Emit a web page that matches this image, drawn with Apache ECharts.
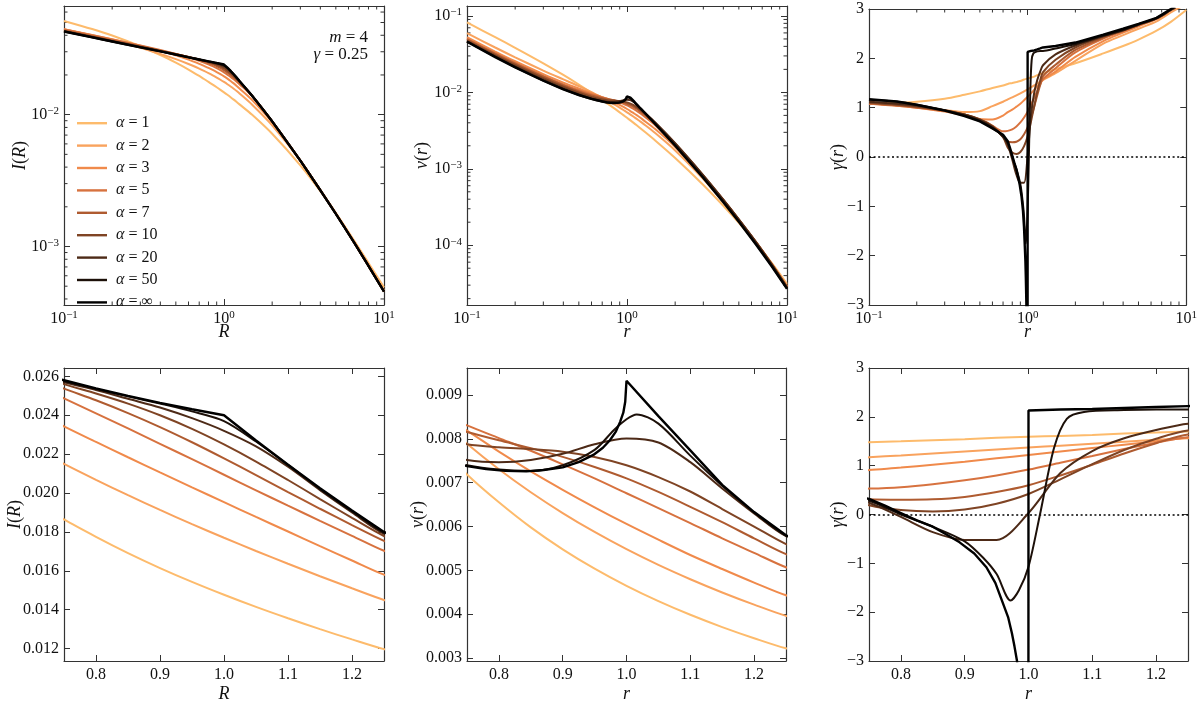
<!DOCTYPE html>
<html><head><meta charset="utf-8">
<script src="https://cdn.jsdelivr.net/npm/echarts@6/dist/echarts.min.js"></script>
<style>html,body{margin:0;padding:0;background:#fff}#c{width:1200px;height:704px}</style>
</head><body><div id="c"></div>
<script>
// ---------- legend / colours ----------
const names = ['α = 1','α = 2','α = 3','α = 5','α = 7','α = 10','α = 20','α = 50','α = ∞'];
const colors = ['#FDBB6C','#F9A35E','#F08A4B','#D7723F','#AF5B30','#7F4424','#4D2A17','#1C1009','#000000'];

// ---------- common radius grid ----------
const G = [0.1,0.15,0.2,0.3,0.4,0.5,0.6,0.7,0.75,0.8,0.85,0.9,0.95,1.0,1.05,1.1,1.15,1.2,1.25,1.5,2,3,4,5,6.5,8,10];

// ---------- I(R) ----------
const I_1 = [0.0514,0.0446,0.0398,0.0330,0.02834,0.02479,0.02198,0.01967,0.01864,0.017746,0.01691,0.016141,0.01543,0.014767,0.014142,0.013556,0.012999,0.01247,0.01197,0.00997,0.00716,0.00413,0.00263,0.00179,0.00111,0.00075,0.00049];
const I_2 = [0.0445,0.0399,0.0366,0.0322,0.0289,0.02635,0.02423,0.02236,0.0215,0.02068,0.01989,0.01913,0.0184,0.0177,0.01702,0.01636,0.01572,0.0151,0.0145,0.0119,0.0083,0.00449,0.00269,0.00179,0.00109,0.00073,0.000465];
const I_3 = [0.0445,0.0402,0.0373,0.0333,0.0305,0.02815,0.02614,0.0243,0.02343,0.02263,0.02184,0.02106,0.02029,0.01953,0.01877,0.01802,0.01727,0.01653,0.0158,0.01289,0.00874,0.00448,0.00267,0.00177,0.001074,0.000712,0.000458];
const I_5 = [0.0443,0.04005,0.0372,0.03348,0.03089,0.02889,0.02721,0.02565,0.02487,0.0241,0.02332,0.02253,0.02174,0.02094,0.02014,0.01935,0.01857,0.0178,0.01703,0.01381,0.00888,0.00448,0.00267,0.00177,0.001074,0.000712,0.000455];
const I_7 = [0.04346,0.03928,0.03656,0.03296,0.03059,0.0288,0.02733,0.02602,0.02537,0.02477,0.02411,0.02339,0.02261,0.02178,0.02092,0.02005,0.01919,0.01835,0.01754,0.01385,0.0089,0.00448,0.00267,0.00177,0.001074,0.000712,0.000455];
const I_10 = [0.04314,0.03899,0.03627,0.03277,0.03046,0.02874,0.02737,0.02617,0.0256,0.02512,0.0246,0.0240,0.0233,0.0225,0.02162,0.02067,0.01969,0.01872,0.01779,0.01388,0.0089,0.00448,0.00267,0.00177,0.001074,0.000712,0.000455];
const I_20 = [0.0430,0.0388,0.0361,0.0326,0.0303,0.0287,0.0274,0.0262,0.0257,0.0253,0.02485,0.0244,0.02385,0.0232,0.0224,0.02135,0.02015,0.0190,0.0179,0.0139,0.0089,0.00448,0.00267,0.00177,0.001074,0.000712,0.000455];
const I_50 = [0.0428,0.0386,0.0359,0.0324,0.0302,0.0285,0.0272,0.0262,0.02575,0.02535,0.02497,0.0246,0.0242,0.0237,0.02265,0.02145,0.0202,0.01905,0.01795,0.0139,0.0089,0.00448,0.00267,0.00177,0.001074,0.000712,0.000455];
const I_inf = [0.0427,0.0386,0.0359,0.0324,0.0302,0.0285,0.0272,0.0262,0.0258,0.02538,0.0250,0.02464,0.02431,0.0240,0.0227,0.02145,0.02025,0.0191,0.0180,0.0139,0.0089,0.00448,0.00267,0.00177,0.001074,0.000712,0.000455];

// ---------- nu(r) ----------
const nu_1 = [0.0824,0.05275,0.03833,0.02404,0.01693,0.01268,0.00989,0.00793,0.00719,0.006554,0.005981,0.00548,0.005038,0.004646,0.004297,0.003985,0.003704,0.00345,0.00322,0.002345,0.001381,0.000614,0.000328,0.000196,0.0001025,5.91e-5,3.12e-5];
const nu_2 = [0.05963,0.03864,0.02873,0.01931,0.01478,0.01204,0.01007,0.00853,0.00789,0.007308,0.006783,0.006308,0.005876,0.005483,0.005124,0.004797,0.004495,0.004217,0.00396,0.00294,0.00174,0.000735,0.00037,0.00021,0.0001043,5.78e-5,2.95e-5];
const nu_3 = [0.05263,0.03423,0.02553,0.0173,0.01343,0.01122,0.00976,0.00863,0.00819,0.00771,0.00726,0.00684,0.00644,0.00606,0.0057,0.00535,0.00503,0.00472,0.00443,0.00331,0.00193,0.000775,0.000385,0.000215,0.000105,5.72e-5,2.87e-5];
const nu_5 = [0.05008,0.03257,0.02429,0.01643,0.01272,0.01064,0.00938,0.00862,0.00831,0.00802,0.00773,0.00742,0.0071,0.00676,0.00642,0.00608,0.00573,0.0054,0.00507,0.00372,0.00207,0.0008,0.000388,0.000215,0.0001045,5.68e-5,2.85e-5];
const nu_7 = [0.04928,0.03193,0.02374,0.016,0.01234,0.0103,0.00908,0.00837,0.00816,0.00797,0.00779,0.00759,0.00736,0.0071,0.00679,0.00645,0.0061,0.00573,0.00537,0.0039,0.00213,0.000815,0.000393,0.000217,0.0001052,5.7e-5,2.84e-5];
const nu_10 = [0.04768,0.03076,0.0228,0.01533,0.01183,0.00988,0.00871,0.00805,0.00788,0.00781,0.00777,0.00771,0.00759,0.0074,0.00713,0.0068,0.0064,0.006,0.0056,0.00401,0.00216,0.000822,0.000395,0.000218,0.0001055,5.7e-5,2.83e-5];
const nu_20 = [0.04636,0.02968,0.02188,0.01462,0.01127,0.00941,0.00832,0.00769,0.00752,0.00747,0.00752,0.00766,0.00788,0.00801,0.00792,0.00747,0.00687,0.0063,0.00578,0.00404,0.00215,0.000815,0.000391,0.000216,0.0001045,5.65e-5,2.8e-5];
const r_nu50 = [0.1,0.15,0.2,0.3,0.4,0.5,0.6,0.7,0.75,0.8,0.85,0.9,0.95,0.98,1.0,1.016,1.05,1.1,1.15,1.2,1.25,1.5,2,3,4,5,6.5,8,10];
const nu_50 = [0.04655,0.02932,0.02143,0.01426,0.01102,0.00925,0.0082,0.00759,0.0074,0.0073,0.00727,0.0074,0.00775,0.0082,0.00845,0.00856,0.00835,0.00762,0.00693,0.00632,0.00579,0.00389,0.00204,0.000772,0.000371,0.000205,9.95e-5,5.42e-5,2.72e-5];
const r_nuInf = [0.1,0.15,0.2,0.3,0.4,0.5,0.6,0.7,0.75,0.78,0.81,0.843,0.87,0.9,0.925,0.948,0.963,0.974,0.983,0.99,0.995,0.998,1.0,1.05,1.1,1.15,1.2,1.25,1.5,2,3,4,5,6.5,8,10];
const nu_inf = [0.0459,0.0289,0.02123,0.0142,0.01095,0.00924,0.00821,0.00759,0.00738,0.00731,0.00727,0.00726,0.00729,0.00735,0.00747,0.007635,0.0078,0.00797,0.00816,0.00839,0.0086,0.00885,0.00933,0.00852,0.00774,0.00695,0.00633,0.0058,0.00386,0.002,0.000756,0.000364,0.000202,9.78e-5,5.34e-5,2.68e-5];

// ---------- gamma(r) ----------
const gam_1 = [1.10,1.10,1.12,1.18,1.26,1.33,1.40,1.45,1.48,1.50,1.52,1.54,1.57,1.59,1.61,1.63,1.66,1.68,1.70,1.78,1.9,2.1,2.25,2.38,2.56,2.74,2.98];
const gam_2 = [1.09,1.05,1.01,0.95,0.91,0.93,1.03,1.12,1.17,1.21,1.25,1.29,1.33,1.37,1.41,1.45,1.49,1.53,1.56,1.70,1.95,2.3,2.47,2.6,2.75,2.93,3.1];
const gam_3 = [1.08,1.04,1.0,0.92,0.84,0.77,0.76,0.84,0.91,0.96,1.02,1.08,1.15,1.22,1.29,1.36,1.43,1.50,1.57,1.73,2.03,2.35,2.52,2.65,2.8,2.98,3.15];
const gam_5 = [1.08,1.04,1.0,0.93,0.85,0.75,0.63,0.52,0.53,0.56,0.62,0.70,0.80,0.92,1.06,1.20,1.34,1.47,1.58,1.8,2.12,2.4,2.55,2.67,2.8,2.98,3.16];
const gam_7 = [1.09,1.05,1.01,0.94,0.86,0.76,0.63,0.42,0.31,0.30,0.31,0.36,0.46,0.60,0.80,1.02,1.25,1.46,1.64,1.87,2.17,2.42,2.56,2.68,2.81,2.98,3.16];
const gam_10 = [1.1,1.06,1.02,0.94,0.86,0.76,0.62,0.40,0.19,0.09,0.06,0.10,0.22,0.42,0.72,1.03,1.32,1.55,1.72,1.97,2.22,2.44,2.57,2.68,2.81,2.98,3.16];
const gam_20 = [1.12,1.08,1.04,0.95,0.86,0.75,0.61,0.41,0.24,-0.05,-0.36,-0.52,-0.52,0.03,0.85,1.3,1.56,1.73,1.86,2.08,2.26,2.45,2.57,2.68,2.81,2.98,3.16];
const r_gam50 = [0.1,0.15,0.2,0.3,0.4,0.5,0.6,0.7,0.75,0.8,0.85,0.9,0.93,0.95,0.972,0.985,1.0,1.018,1.04,1.06,1.087,1.15,1.2,1.25,1.5,2,3,4,5,6.5,8,10];
const gam_50 = [1.16,1.12,1.06,0.95,0.84,0.73,0.59,0.42,0.28,0.0,-0.25,-0.55,-0.9,-1.22,-1.76,-1.55,-1.07,0.0,1.36,1.96,2.1,2.14,2.15,2.15,2.2,2.29,2.46,2.58,2.69,2.82,2.99,3.18];
const r_gamInf = [0.1,0.15,0.2,0.3,0.4,0.5,0.6,0.7,0.75,0.775,0.8,0.825,0.85,0.87,0.892,0.915,0.934,0.948,0.96,0.968,0.974,0.978,0.982,0.99,0.996,0.9995,1.0,1.05,1.1,1.15,1.2,1.25,1.5,2,3,4,5,6.5,8,10];
const gam_inf = [1.17,1.125,1.06,0.94,0.83,0.72,0.58,0.45,0.32,0.18,0.03,-0.12,-0.25,-0.4,-0.57,-0.8,-1.08,-1.4,-1.82,-2.1,-2.43,-2.7,-3.0,-4.5,-8,-20,2.13,2.15,2.16,2.18,2.2,2.22,2.25,2.32,2.48,2.6,2.7,2.82,3.0,3.2];

// ---------- axis settings ----------
const logX = [0.1, 10];
const yI_top = [3.6e-4, 0.0667];
const yNu_top = [1.65e-5, 0.135];
const yGam = [-3, 3];
const xLin = [0.75, 1.25];
const yI_bot = [0.01136, 0.02643];
const yNu_bot = [0.00293, 0.00962];

const FONT = "'Liberation Serif', 'Times New Roman', 'DejaVu Serif', serif";
const AX = '#333';
const pairs = (xs, ys) => xs.map((x, i) => [x, ys[i]]);

const I_sets = [[G,I_1],[G,I_2],[G,I_3],[G,I_5],[G,I_7],[G,I_10],[G,I_20],[G,I_50],[G,I_inf]];
const nu_sets = [[G,nu_1],[G,nu_2],[G,nu_3],[G,nu_5],[G,nu_7],[G,nu_10],[G,nu_20],[r_nu50,nu_50],[r_nuInf,nu_inf]];
const gam_sets = [[G,gam_1],[G,gam_2],[G,gam_3],[G,gam_5],[G,gam_7],[G,gam_10],[G,gam_20],[r_gam50,gam_50],[r_gamInf,gam_inf]];

const grids = [
  {left:64, top:6, width:320, height:299},
  {left:467, top:6, width:320, height:299},
  {left:869, top:6, width:319, height:299},
  {left:64, top:368, width:320, height:298},
  {left:467, top:368, width:319, height:298},
  {left:869, top:368, width:319, height:298}
];

const supFmt = v => { const e = Math.round(Math.log10(v)); return '10{s|' + (e < 0 ? '−' : '') + Math.abs(e) + '}'; };
const gamFmt = v => (v < 0 ? '−' : '') + Math.abs(v);
const labelRich = { s: { fontSize: 11, lineHeight: 10, verticalAlign: 'top', fontFamily: FONT, color: '#111' } };
const nameRich = { i: { fontStyle: 'italic', fontFamily: FONT, fontSize: 18, color: '#111' } };

const panels = [
  {x:{type:'log', logBase:10, min:logX[0], max:logX[1]}, xf:supFmt, y:{type:'log', logBase:10, min:yI_top[0], max:yI_top[1]}, yf:supFmt, yHideEnds:true, xName:'{i|R}', yName:'{i|I}({i|R})', yGap:35, sets:I_sets, xm:[0.1,1], ym:[1e-4,1e-3,1e-2]},
  {x:{type:'log', logBase:10, min:logX[0], max:logX[1]}, xf:supFmt, y:{type:'log', logBase:10, min:yNu_top[0], max:yNu_top[1]}, yf:supFmt, yHideEnds:true, xName:'{i|r}', yName:'{i|ν}({i|r})', yGap:36, sets:nu_sets, xm:[0.1,1], ym:[1e-5,1e-4,1e-3,1e-2,1e-1]},
  {x:{type:'log', logBase:10, min:logX[0], max:logX[1]}, xf:supFmt, y:{type:'value', min:yGam[0], max:yGam[1], interval:1}, yf:gamFmt, yHideEnds:false, xName:'{i|r}', yName:'{i|γ}({i|r})', yGap:22, sets:gam_sets, xm:[0.1,1], ym:[], zero:true},
  {x:{type:'value', min:xLin[0], max:xLin[1], splitNumber:5}, xf:v=>v.toFixed(1), xHideEnds:true, y:{type:'value', min:yI_bot[0], max:yI_bot[1], splitNumber:7}, yf:v=>v.toFixed(3), yHideEnds:true, xName:'{i|R}', yName:'{i|I}({i|R})', yGap:40, sets:I_sets},
  {x:{type:'value', min:xLin[0], max:xLin[1], splitNumber:5}, xf:v=>v.toFixed(1), xHideEnds:true, y:{type:'value', min:yNu_bot[0], max:yNu_bot[1], splitNumber:6}, yf:v=>v.toFixed(3), yHideEnds:true, xName:'{i|r}', yName:'{i|ν}({i|r})', yGap:40, sets:nu_sets},
  {x:{type:'value', min:xLin[0], max:xLin[1], splitNumber:5}, xf:v=>v.toFixed(1), xHideEnds:true, y:{type:'value', min:yGam[0], max:yGam[1], interval:1}, yf:gamFmt, yHideEnds:false, xName:'{i|r}', yName:'{i|γ}({i|r})', yGap:22, sets:gam_sets, zero:true}
];

function baseAxis(extra) {
  return Object.assign({
    axisLine: {show:true, onZero:false, lineStyle:{color:AX, width:1.2}},
    axisTick: {show:true, inside:true, length:6, lineStyle:{color:AX, width:1}},
    splitLine: {show:false},
    minorTick: {show:false}
  }, extra);
}

const xAxis = [], yAxis = [], series = [];
panels.forEach((P, p) => {
  const lab = {fontFamily:FONT, fontSize:16, color:'#111', lineHeight:18, rich:labelRich};
  xAxis.push(baseAxis(Object.assign({}, P.x, {gridIndex:p, position:'bottom',
    axisLabel: Object.assign({show:true, margin:5, formatter:P.xf, showMinLabel: !P.xHideEnds, showMaxLabel: !P.xHideEnds}, lab),
    name:P.xName, nameLocation:'middle', nameGap: p < 3 ? 18 : 24, nameMoveOverlap:false,
    nameTextStyle:{fontFamily:FONT, fontSize:18, color:'#111', rich:nameRich}})));
  xAxis.push(baseAxis(Object.assign({}, P.x, {gridIndex:p, position:'top', axisLabel:{show:false}})));
  yAxis.push(baseAxis(Object.assign({}, P.y, {gridIndex:p, position:'left',
    axisLabel: Object.assign({show:true, margin:5, formatter:P.yf, showMinLabel: !P.yHideEnds, showMaxLabel: !P.yHideEnds}, lab),
    name:P.yName, nameLocation:'middle', nameGap:P.yGap, nameMoveOverlap:false,
    nameTextStyle:{fontFamily:FONT, fontSize:18, color:'#111', rich:nameRich}})));
  yAxis.push(baseAxis(Object.assign({}, P.y, {gridIndex:p, position:'right', axisLabel:{show:false}})));

  P.sets.forEach((s, i) => {
    const ser = {
      type:'line', name:names[i], xAxisIndex:2*p, yAxisIndex:2*p,
      data: pairs(s[0], s[1]), showSymbol:false, symbol:'none',
      smooth: i === 8 ? false : 0.3, clip:true, silent:true,
      lineStyle:{color:colors[i], width: i === 8 ? 2.4 : 2},
      itemStyle:{color:colors[i]}, z: 3 + i
    };
    if (P.zero && i === 0) {
      ser.markLine = {silent:true, symbol:['none','none'], label:{show:false},
        lineStyle:{color:'#000', type:[2,2.6], width:1.7}, data:[{yAxis:0}]};
    }
    series.push(ser);
  });

  // minor ticks on log axes (2..9 x 10^k)
  if (P.xm) {
    const xMin = P.x.min, xMax = P.x.max, isLogY = P.y.type === 'log';
    const xMinor = [], yMinor = [];
    P.xm.forEach(d => { for (let m = 2; m <= 9; m++) { const v = m*d; if (v > xMin && v < xMax) xMinor.push(v); } });
    P.ym.forEach(d => { for (let m = 2; m <= 9; m++) { const v = m*d; if (v > P.y.min && v < P.y.max) yMinor.push(v); } });
    const xRef = 1, yRef = isLogY ? Math.sqrt(P.y.min*P.y.max) : 0;
    series.push({
      type:'custom', xAxisIndex:2*p, yAxisIndex:2*p, data:[[xRef, yRef]], silent:true, clip:false, z:2,
      renderItem: (params, api) => {
        const cs = params.coordSys, ch = [], L = 3.5;
        const st = {stroke:AX, lineWidth:1};
        xMinor.forEach(v => {
          const px = api.coord([v, yRef])[0];
          ch.push({type:'line', shape:{x1:px, y1:cs.y+cs.height, x2:px, y2:cs.y+cs.height-L}, style:st});
          ch.push({type:'line', shape:{x1:px, y1:cs.y, x2:px, y2:cs.y+L}, style:st});
        });
        yMinor.forEach(v => {
          const py = api.coord([xRef, v])[1];
          ch.push({type:'line', shape:{x1:cs.x, y1:py, x2:cs.x+L, y2:py}, style:st});
          ch.push({type:'line', shape:{x1:cs.x+cs.width, y1:py, x2:cs.x+cs.width-L, y2:py}, style:st});
        });
        return {type:'group', children:ch};
      }
    });
  }
});

const option = {
  animation:false,
  backgroundColor:'#fff',
  textStyle:{fontFamily:FONT},
  grid: grids.map(g => Object.assign({containLabel:false}, g)),
  xAxis, yAxis, series,
  legend: {
    data:names, left:77, top:115, orient:'vertical', padding:0,
    itemWidth:30, itemHeight:14, itemGap:6.4, selectedMode:false,
    icon:'path://M0,0 L0,0 M0,6 L30,6 L30,8.4 L0,8.4 Z M30,14 L30,14',
    formatter: n => ' {i|α} ' + n.slice(2),
    textStyle:{fontFamily:FONT, fontSize:16, lineHeight:14, color:'#111',
      rich:{i:{fontStyle:'italic', fontFamily:FONT, fontSize:16, lineHeight:14, color:'#111'}}}
  },
  graphic: [
    {type:'text', x:368, y:38, style:{text:'{i|m} = 4', align:'right', verticalAlign:'middle', fontFamily:FONT, fontSize:17, fill:'#111', rich:{i:{fontStyle:'italic', fontFamily:FONT, fontSize:17, fill:'#111'}}}},
    {type:'text', x:368, y:55, style:{text:'{i|γ} = 0.25', align:'right', verticalAlign:'middle', fontFamily:FONT, fontSize:17, fill:'#111', rich:{i:{fontStyle:'italic', fontFamily:FONT, fontSize:17, fill:'#111'}}}}
  ]
};

const chart = echarts.init(document.getElementById('c'), null, {renderer:'canvas'});
chart.setOption(option);
</script>
</body></html>
